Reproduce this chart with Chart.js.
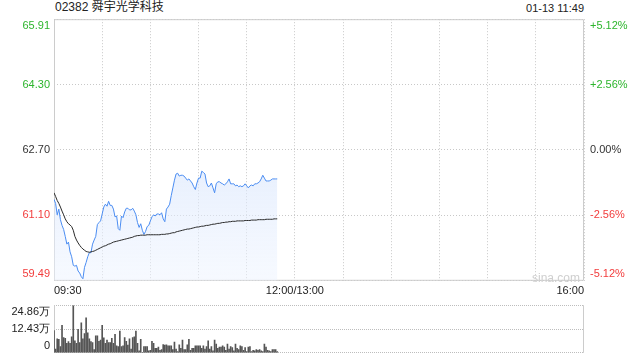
<!DOCTYPE html>
<html>
<head>
<meta charset="utf-8">
<script src="https://cdn.jsdelivr.net/npm/chart.js@4"></script>
<style>
  html, body { margin: 0; padding: 0; background: #fff; }
  body { width: 640px; height: 360px; position: relative; overflow: hidden;
         font-family: Arial, "Liberation Sans", "Noto Sans CJK SC", sans-serif; }
  #title { position: absolute; left: 55px; top: 0px; font-size: 12px; color: #222; line-height: 15px; }
  #stamp { position: absolute; right: 56px; top: 1px; font-size: 11px; color: #222; line-height: 14px; }
  #mark { position: absolute; left: 532px; top: 271px; font-size: 12px; color: #cfcfcf; }
  #priceCanvas { position: absolute; left: 0; top: 0; }
  #volCanvas { position: absolute; left: 0; top: 288px; }
</style>
</head>
<body>
<div id="title">02382 舜宇光学科技</div>
<div id="stamp">01-13 11:49</div>
<canvas id="priceCanvas" width="640" height="300"></canvas>
<canvas id="volCanvas" width="640" height="82"></canvas>
<div id="mark">sina.com</div>
<script>
// one value per minute from 09:30; session is 330 minutes (09:30-12:00, 13:00-16:00)
const PREV_CLOSE = 62.70;
const SESSION_MINUTES = 330;

const priceTicks = [59.49, 61.10, 62.70, 64.30, 65.91];
const pctLabels = ["-5.12%", "-2.56%", "0.00%", "+2.56%", "+5.12%"];
const timeTickMinutes = [0, 150, 330];
const timeTickLabels = ["09:30", "12:00/13:00", "16:00"];

const volTicks = [0, 12.43, 24.86];
const volLabels = ["0", "12.43万", "24.86万"];

const price = [
  61.49, 61.39, 61.11, 61.25, 60.99, 60.85, 60.75, 60.58, 60.39, 60.44,
  60.20, 60.08, 59.87, 59.85, 59.87, 59.73, 59.68, 59.59, 59.54, 59.82,
  59.94, 60.08, 60.18, 60.18, 60.39, 60.49, 60.58, 60.87, 60.92, 60.96,
  61.13, 61.30, 61.37, 61.32, 61.44, 61.34, 61.34, 61.25, 61.06, 61.08,
  60.77, 60.73, 61.08, 61.04, 61.18, 61.27, 61.27, 61.23, 61.23, 61.27,
  61.20, 61.11, 60.92, 60.80, 60.89, 60.73, 60.63, 60.70, 60.82, 60.85,
  60.96, 61.06, 61.11, 61.08, 61.13, 61.13, 61.11, 61.16, 61.01, 60.94,
  61.25, 61.30, 61.37, 61.58, 61.77, 61.96, 62.11, 62.13, 62.06, 62.08,
  62.08, 62.06, 62.01, 61.96, 61.99, 61.94, 61.89, 61.80, 61.73, 61.89,
  62.01, 62.01, 62.18, 62.15, 62.11, 61.89, 61.80, 61.82, 61.89, 61.77,
  61.65, 61.87, 61.92, 61.92, 61.89, 61.87, 61.84, 61.87, 61.92, 61.99,
  61.87, 61.87, 61.87, 61.82, 61.84, 61.80, 61.82, 61.80, 61.82, 61.87,
  61.82, 61.77, 61.82, 61.84, 61.82, 61.87, 61.87, 61.89, 61.92, 61.99,
  62.08, 62.01, 61.94, 61.94, 61.94, 61.96, 61.99, 61.99, 61.99, 61.99
];

const avgPrice = [
  61.65, 61.56, 61.46, 61.39, 61.30, 61.20, 61.11, 61.01, 60.94, 60.89,
  60.86, 60.82, 60.73, 60.58, 60.49, 60.42, 60.36, 60.31, 60.27, 60.24,
  60.21, 60.20, 60.19, 60.20, 60.21, 60.22, 60.24, 60.26, 60.28, 60.30,
  60.32, 60.34, 60.35, 60.37, 60.39, 60.40, 60.42, 60.44, 60.45, 60.46,
  60.47, 60.48, 60.49, 60.50, 60.51, 60.52, 60.53, 60.54, 60.55, 60.56,
  60.58, 60.59, 60.60, 60.60, 60.61, 60.61, 60.61, 60.61, 60.62, 60.62,
  60.62, 60.62, 60.62, 60.62, 60.62, 60.62, 60.62, 60.63, 60.63, 60.63,
  60.64, 60.64, 60.65, 60.66, 60.67, 60.67, 60.69, 60.70, 60.71, 60.72,
  60.73, 60.74, 60.75, 60.76, 60.76, 60.77, 60.78, 60.79, 60.80, 60.81,
  60.81, 60.82, 60.83, 60.83, 60.84, 60.85, 60.85, 60.86, 60.87, 60.88,
  60.88, 60.89, 60.90, 60.90, 60.91, 60.92, 60.92, 60.93, 60.93, 60.94,
  60.94, 60.95, 60.95, 60.95, 60.96, 60.96, 60.96, 60.96, 60.96, 60.97,
  60.97, 60.97, 60.97, 60.98, 60.98, 60.98, 60.98, 60.99, 60.99, 60.99,
  60.99, 60.99, 61.00, 61.00, 61.00, 61.00, 61.00, 61.01, 61.01, 61.01
];

// volume, in 万 shares
const volume = [
  11.6, 2.0, 7.3, 7.0, 3.3, 14.3, 8.0, 7.5, 5.0, 5.8,
  5.0, 8.3, 24.7, 6.3, 5.0, 12.3, 5.3, 15.7, 7.3, 10.0,
  18.2, 10.4, 7.3, 5.8, 5.3, 1.7, 8.8, 8.8, 6.0, 6.6,
  14.3, 7.8, 5.0, 6.6, 5.3, 5.3, 7.6, 5.0, 9.6, 3.6,
  3.3, 11.3, 3.3, 3.6, 8.0, 6.0, 4.0, 7.3, 2.0, 8.0,
  8.3, 11.3, 5.0, 1.0, 7.0, 0.3, 3.3, 3.3, 3.3, 1.0,
  1.3, 6.0, 5.0, 2.3, 2.3, 3.0, 1.3, 1.7, 4.3, 4.0,
  4.1, 3.6, 3.6, 3.6, 1.7, 5.6, 2.0, 0.7, 4.1, 2.3,
  6.6, 1.7, 1.7, 4.1, 7.0, 1.3, 2.3, 2.3, 3.6, 3.6,
  3.6, 3.6, 2.3, 3.6, 2.0, 3.3, 6.3, 2.0, 3.3, 1.0,
  6.6, 4.6, 2.3, 3.0, 3.0, 3.6, 3.0, 1.3, 4.6, 2.0,
  3.3, 2.7, 1.0, 4.6, 2.3, 1.7, 3.6, 3.3, 1.3, 2.7,
  0.7, 3.0, 3.3, 0.7, 1.3, 1.0, 1.7, 1.3, 1.7, 1.0,
  0.7, 4.6, 3.0, 1.3, 1.0, 0.7, 1.7, 1.7, 1.7, 0.7
];

const UP = "#2db52d";
const DOWN = "#f23c3c";
const FLAT = "#333";
const GRID = "#c8c8c8";
const FONT = { family: "Arial, 'Liberation Sans', sans-serif", size: 11 };

function tickColor(ctx) {
  const v = ctx.tick.value;
  if (Math.abs(v - PREV_CLOSE) < 0.005) return FLAT;
  return v > PREV_CLOSE ? UP : DOWN;
}

// push the edge labels inside the plot: first label up, last label down
function edgeLabel(text, index, count) {
  if (index === 0) return [text, ""];
  if (index === count - 1) return ["", text];
  return text;
}

const frame = {
  id: "frame",
  beforeDatasetsDraw(chart, args, opts) {
    const { ctx, chartArea: a } = chart;
    ctx.save();
    ctx.strokeStyle = "#cccccc";
    ctx.lineWidth = 1;
    ctx.beginPath();
    if (opts.sidesOnly) {
      ctx.moveTo(a.left + 0.5, a.top); ctx.lineTo(a.left + 0.5, a.bottom);
      ctx.moveTo(a.right - 0.5, a.top); ctx.lineTo(a.right - 0.5, a.bottom);
    } else {
      ctx.rect(a.left + 0.5, a.top + 0.5, a.right - a.left - 1, a.bottom - a.top - 1);
    }
    ctx.stroke();
    ctx.restore();
  },
};

function blueFill(context) {
  const { chart } = context;
  const a = chart.chartArea;
  if (!a) return "rgba(220,232,252,0.5)";
  const g = chart.ctx.createLinearGradient(0, a.top, 0, a.bottom);
  g.addColorStop(0, "rgba(190,212,250,0.75)");
  g.addColorStop(1, "rgba(238,244,255,0.5)");
  return g;
}

new Chart(document.getElementById("priceCanvas"), {
  type: "line",
  data: {
    datasets: [
      {
        data: avgPrice.map((v, i) => ({ x: i, y: v })),
        borderColor: "#2a2a2a",
        borderWidth: 1,
        pointRadius: 0,
        fill: false,
        tension: 0,
      },
      {
        data: price.map((v, i) => ({ x: i, y: v })),
        borderColor: "#4b8df2",
        borderWidth: 1,
        pointRadius: 0,
        fill: "start",
        backgroundColor: blueFill,
        tension: 0,
      },
    ],
  },
  options: {
    responsive: false,
    animation: false,
    events: [],
    layout: { padding: { top: 14, left: 0, right: 0, bottom: 0 } },
    plugins: { legend: { display: false }, tooltip: { enabled: false } },
    scales: {
      x: {
        type: "linear",
        min: 0,
        max: SESSION_MINUTES,
        ticks: {
          stepSize: 30,
          autoSkip: false,
          maxRotation: 0,
          align: "inner",
          padding: 4,
          color: "#222",
          font: FONT,
          callback: (v) => {
            const k = timeTickMinutes.indexOf(v);
            return k >= 0 ? timeTickLabels[k] : "";
          },
        },
        grid: { color: GRID, drawTicks: false },
        border: { display: false, dash: [1, 2] },
        afterFit: (s) => { s.height = 16; },
      },
      y: {
        position: "left",
        min: priceTicks[0],
        max: priceTicks[priceTicks.length - 1],
        afterBuildTicks: (s) => { s.ticks = priceTicks.map((v) => ({ value: v })); },
        ticks: {
          autoSkip: false,
          padding: 4,
          color: tickColor,
          font: FONT,
          callback: (v, i, all) => edgeLabel(v.toFixed(2), i, all.length),
        },
        grid: { color: GRID, drawTicks: false },
        border: { display: false, dash: [1, 2] },
        afterFit: (s) => { s.width = 54; },
      },
      y2: {
        position: "right",
        min: priceTicks[0],
        max: priceTicks[priceTicks.length - 1],
        afterBuildTicks: (s) => { s.ticks = priceTicks.map((v) => ({ value: v })); },
        ticks: {
          autoSkip: false,
          padding: 6,
          color: tickColor,
          font: FONT,
          callback: (v, i, all) => edgeLabel(pctLabels[i], i, all.length),
        },
        grid: { display: false, drawTicks: false },
        border: { display: false },
        afterFit: (s) => { s.width = 56; },
      },
    },
  },
  plugins: [frame],
});

new Chart(document.getElementById("volCanvas"), {
  type: "bar",
  data: {
    datasets: [
      {
        data: volume.map((v, i) => ({ x: i, y: v })),
        backgroundColor: "#555555",
        barThickness: 1,
      },
    ],
  },
  options: {
    responsive: false,
    animation: false,
    events: [],
    layout: { padding: { top: 16, left: 0, right: 56, bottom: 16 } },
    plugins: { legend: { display: false }, tooltip: { enabled: false }, frame: { sidesOnly: true } },
    scales: {
      x: {
        type: "linear",
        min: 0,
        max: SESSION_MINUTES,
        offset: false,
        display: false,
      },
      y: {
        position: "left",
        min: volTicks[0],
        max: volTicks[volTicks.length - 1],
        afterBuildTicks: (s) => { s.ticks = volTicks.map((v) => ({ value: v })); },
        ticks: {
          autoSkip: false,
          padding: 4,
          color: "#222",
          font: FONT,
          callback: (v, i, all) => edgeLabel(volLabels[i], i, all.length),
        },
        grid: { color: "#bdbdbd", drawTicks: false },
        border: { display: false, dash: [1, 1] },
        afterFit: (s) => { s.width = 54; },
      },
    },
  },
  plugins: [frame],
});
</script>
</body>
</html>
